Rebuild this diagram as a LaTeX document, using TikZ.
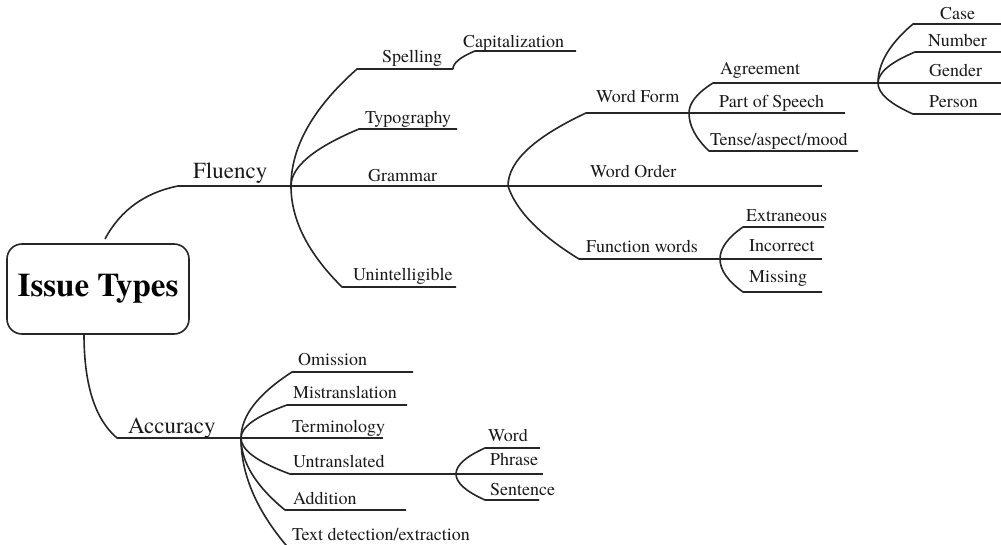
\documentclass[tikz,border=0pt]{standalone}
\usepackage{fontspec}
\setmainfont{texgyretermes}[Extension=.otf, UprightFont=*-regular, BoldFont=*-bold, ItalicFont=*-italic, BoldItalicFont=*-bolditalic]
\usetikzlibrary{calc}
\newcommand\curvbr[3]{%
  \path (#1 |- #2) coordinate (tmpa);
  \coordinate (ctl) at ($(tmpa)!0.5!(#1)$);
  \draw[br] (#1) .. controls ($(#1)!0.6667!(ctl)$) and ($(#2)!0.6667!(ctl)$) .. (#2) -- (#3);}
\begin{document}
\begin{tikzpicture}[x=1pt,y=-1pt,
  br/.style={line width=1.6pt, draw=black!85, line join=round},
  lbl/.style={anchor=base west, inner sep=0pt, font=\fontsize{18}{20}\selectfont, text=black!90},
  big/.style={anchor=base west, inner sep=0pt, font=\fontsize{23}{26}\selectfont, text=black!90}]
\useasboundingbox (0,0) rectangle (1001,545);
\begin{scope}
\clip (0,0) rectangle (1001,545);
% root
\node[draw=black!85, line width=1.6pt, rounded corners=15pt, minimum width=182pt, minimum height=90pt, inner sep=0pt,
      font=\fontsize{33}{36}\selectfont\bfseries] (root) at (98,289) {Issue Types};

% coordinates
\coordinate (flS) at (105,239); \coordinate (flE) at (178,186); \coordinate (flH) at (291,186);
\coordinate (spS) at (357,69);  \coordinate (spE) at (453,69);
\coordinate (caS) at (475,51);  \coordinate (caE) at (576,51);
\coordinate (tyS) at (359,129); \coordinate (tyE) at (457,129);
\coordinate (grH) at (508,186); \coordinate (woE) at (822,186);
\coordinate (wfS) at (586,113); \coordinate (wfH) at (689,113);
\coordinate (agS) at (713,83);  \coordinate (agH) at (878,83);
\coordinate (psE) at (845,113);
\coordinate (teS) at (709,151); \coordinate (teE) at (858,151);
\coordinate (csS) at (913,24);  \coordinate (csE) at (1001,24);
\coordinate (nuS) at (915,52);  \coordinate (nuE) at (1001,52);
\coordinate (geE) at (1001,83);
\coordinate (peS) at (913,114); \coordinate (peE) at (1001,114);
\coordinate (fwS) at (579,259); \coordinate (fwH) at (720,259);
\coordinate (exS) at (743,227); \coordinate (exE) at (824,227);
\coordinate (inE) at (822,259);
\coordinate (miS) at (743,292); \coordinate (miE) at (822,292);
\coordinate (unS) at (342,287); \coordinate (unE) at (456,287);
\coordinate (acS) at (84,334);  \coordinate (acE) at (117,438); \coordinate (acH) at (241,438);
\coordinate (omS) at (292,372); \coordinate (omE) at (413,372);
\coordinate (mtS) at (287,405); \coordinate (mtE) at (407,405);
\coordinate (tmE) at (383,438);
\coordinate (utS) at (290,474); \coordinate (utH) at (456,474);
\coordinate (adS) at (285,510); \coordinate (adE) at (406,510);
\coordinate (tdS) at (292,552); \coordinate (tdE) at (480,552);
\coordinate (wdS) at (485,448); \coordinate (wdE) at (540,448);
\coordinate (phE) at (543,474);
\coordinate (seS) at (485,500); \coordinate (seE) at (539,500);

% connectors
\draw[br] (flS) .. controls (120.3,210.3) and (144.7,192.7) .. (flE) -- (flH);
\curvbr{flH}{spS}{spE}
\curvbr{spE}{caS}{caE}
\curvbr{flH}{tyS}{tyE}
\draw[br] (flH) -- (grH) -- (woE);
\curvbr{grH}{wfS}{wfH}
\curvbr{wfH}{agS}{agH}
\draw[br] (wfH) -- (psE);
\curvbr{wfH}{teS}{teE}
\curvbr{agH}{csS}{csE}
\curvbr{agH}{nuS}{nuE}
\draw[br] (agH) -- (geE);
\curvbr{agH}{peS}{peE}
\draw[br] (grH) .. controls (515.7,209.7) and (538.7,234.3) .. (fwS) -- (fwH);
\curvbr{fwH}{exS}{exE}
\draw[br] (fwH) -- (inE);
\curvbr{fwH}{miS}{miE}
\curvbr{flH}{unS}{unE}
\draw[br] (acS) .. controls (84,384.7) and (95,419.3) .. (acE) -- (acH);
\curvbr{acH}{omS}{omE}
\curvbr{acH}{mtS}{mtE}
\draw[br] (acH) -- (tmE);
\curvbr{acH}{utS}{utH}
\curvbr{acH}{adS}{adE}
\curvbr{acH}{tdS}{tdE}
\curvbr{utH}{wdS}{wdE}
\draw[br] (utH) -- (phE);
\curvbr{utH}{seS}{seE}

% labels
\node[big] (tFl) at (193,179) {Fluency};
\node[big] (tAc) at (128,433) {Accuracy};
\node[lbl] (tSp) at (382,63) {Spelling};
\node[lbl] (tCa) at (463,48) {Capitalization};
\node[lbl] (tTy) at (365,124) {Typography};
\node[lbl] (tGr) at (368,182) {Grammar};
\node[lbl] (tUn) at (353,280) {Unintelligible};
\node[lbl] (tWf) at (596,103) {Word Form};
\node[lbl] (tWo) at (590,178) {Word Order};
\node[lbl] (tFw) at (586,253) {Function words};
\node[lbl] (tAg) at (720,75) {Agreement};
\node[lbl] (tPs) at (719,108) {Part of Speech};
\node[lbl] (tTe) at (710,146) {Tense/aspect/mood};
\node[lbl] (tCs) at (940,20) {Case};
\node[lbl] (tNu) at (928,47) {Number};
\node[lbl] (tGe) at (929,77) {Gender};
\node[lbl] (tPe) at (929,108) {Person};
\node[lbl] (tEx) at (746,222) {Extraneous};
\node[lbl] (tIn) at (749,252) {Incorrect};
\node[lbl] (tMi) at (749,283) {Missing};
\node[lbl] (tOm) at (298,365) {Omission};
\node[lbl] (tMt) at (293,398) {Mistranslation};
\node[lbl] (tTm) at (292,432) {Terminology};
\node[lbl] (tUt) at (293,467) {Untranslated};
\node[lbl] (tAd) at (293,504) {Addition};
\node[lbl] (tTd) at (292,540) {Text detection/extraction};
\node[lbl] (tWd) at (488,441) {Word};
\node[lbl] (tPh) at (490,465) {Phrase};
\node[lbl] (tSe) at (490,495) {Sentence};
\end{scope}
\end{tikzpicture}
\end{document}
